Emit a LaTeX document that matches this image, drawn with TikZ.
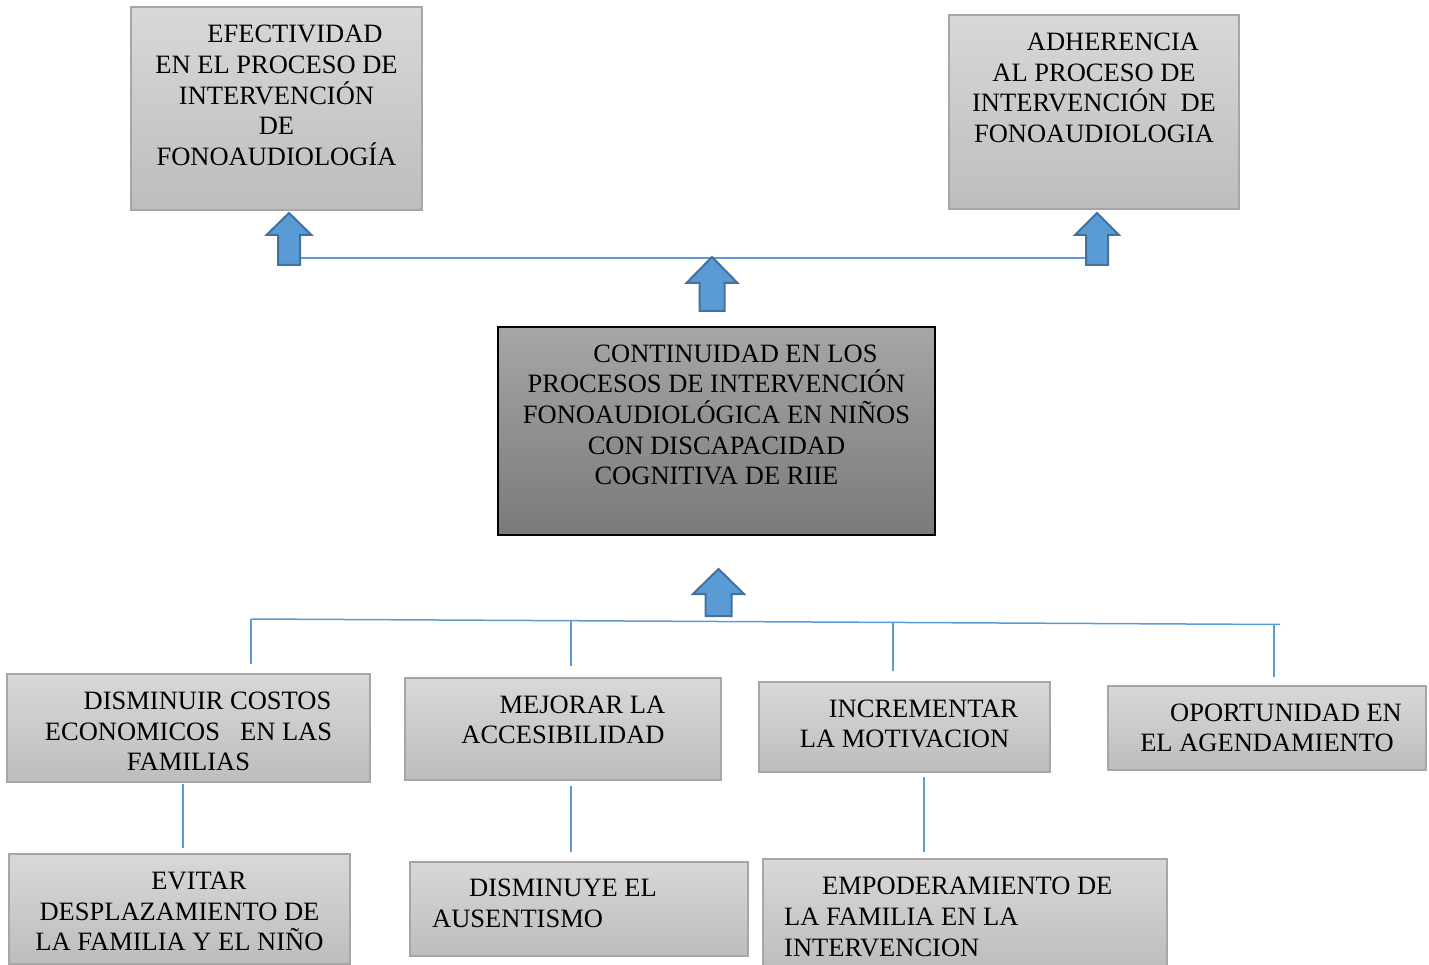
\documentclass[tikz,border=0pt]{standalone}
\usepackage{fontspec}
\setmainfont{Liberation Serif}
\usetikzlibrary{positioning}

\definecolor{boxline}{HTML}{A6A6A6}
\definecolor{boxtop}{HTML}{D8D8D8}
\definecolor{boxbot}{HTML}{BDBDBD}
\definecolor{maintop}{HTML}{A6A6A6}
\definecolor{mainbot}{HTML}{7A7A7A}
\definecolor{linkblue}{HTML}{5B9BD5}
\definecolor{arrowline}{HTML}{41719C}

\tikzset{
  graybox/.style={draw=boxline, line width=1.2pt, top color=boxtop, bottom color=boxbot, inner sep=0pt},
  mainbox/.style={draw=black, line width=1.5pt, top color=maintop, bottom color=mainbot, inner sep=0pt},
  boxtext/.style={inner sep=0pt, font=\fontsize{26.5}{30.6}\selectfont, align=center},
  link/.style={draw=linkblue, line width=1.5pt},
  blockarrow/.style={fill=linkblue, draw=arrowline, line width=2pt, line join=miter},
  pics/blockup/.style args={#1/#2/#3/#4}{code={
    \draw[blockarrow] (-#1,0) -- (-#1,-#3) -- (-#2,-#3) -- (0,-#4) -- (#2,-#3) -- (#1,-#3) -- (#1,0) -- cycle;}}
}

\begin{document}
\begin{tikzpicture}[x=1pt,y=-1pt]
\useasboundingbox (0,0) rectangle (1429,965);
\clip (0,0) rectangle (1429,965);

% top results
\node[graybox, minimum width=291pt, minimum height=203pt] (efec) at (276.5,108.5) {};
\node[boxtext] (efec-t) at (276.5,95.5) {\hspace*{37pt}EFECTIVIDAD\\EN EL PROCESO DE\\INTERVENCIÓN\\DE\\FONOAUDIOLOGÍA};
\node[graybox, minimum width=290pt, minimum height=194pt] (adh) at (1094,112) {};
\node[boxtext] (adh-t) at (1094,88) {\hspace*{38pt}ADHERENCIA\\AL PROCESO DE\\INTERVENCIÓN\ \ DE\\FONOAUDIOLOGIA};

% central box
\node[mainbox, minimum width=437pt, minimum height=208pt] (cont) at (716.5,431) {};
\node[boxtext] (cont-t) at (716.5,415) {\hspace*{38pt}CONTINUIDAD EN LOS\\PROCESOS DE INTERVENCIÓN\\FONOAUDIOLÓGICA EN NIÑOS\\CON DISCAPACIDAD\\COGNITIVA DE RIIE};

% causes
\node[graybox, minimum width=363pt, minimum height=108pt] (dism) at (188.5,728) {};
\node[boxtext] (dism-t) at (188.5,731.5) {\hspace*{38pt}DISMINUIR COSTOS\\ECONOMICOS\hspace{20pt}EN LAS\\FAMILIAS};
\node[graybox, minimum width=316pt, minimum height=102pt] (mejo) at (563,729) {};
\node[boxtext] (mejo-t) at (563,720) {\hspace*{39pt}MEJORAR LA\\ACCESIBILIDAD};
\node[graybox, minimum width=291pt, minimum height=90pt] (incr) at (904.5,727) {};
\node[boxtext] (incr-t) at (904.5,724) {\hspace*{38pt}INCREMENTAR\\LA MOTIVACION};
\node[graybox, minimum width=318pt, minimum height=84pt] (opor) at (1267,728) {};
\node[boxtext] (opor-t) at (1267,728) {\hspace*{38pt}OPORTUNIDAD EN\\EL AGENDAMIENTO};

% consequences
\node[graybox, minimum width=341pt, minimum height=110pt] (evit) at (179.5,909) {};
\node[boxtext] (evit-t) at (179.5,911.5) {\hspace*{39pt}EVITAR\\DESPLAZAMIENTO DE\\LA FAMILIA Y EL NIÑO};
\node[graybox, minimum width=338pt, minimum height=94pt] (ause) at (579,909) {};
\node[boxtext, align=left, anchor=west] (ause-t) at (432,903.5) {\hspace*{37pt}DISMINUYE EL\\AUSENTISMO};
\node[graybox, minimum width=404pt, minimum height=110pt] (empo) at (965,914) {};
\node[boxtext, align=left, anchor=west] (empo-t) at (784,917) {\hspace*{38pt}EMPODERAMIENTO DE\\LA FAMILIA EN LA\\INTERVENCION};

% connectors
\coordinate (topL) at (300,258);
\coordinate (topR) at (1086,258);
\draw[link] (topL) -- (topR);
\coordinate (busL) at (251,619);
\coordinate (busR) at (1280,624.5);
\draw[link] (busL) -- (busR);
\draw[link] (busL) -- (251,664);
\draw[link] (571,621) -- (571,666);
\draw[link] (893,622.5) -- (893,671);
\draw[link] (1274,624.5) -- (1274,677);
\draw[link] (183,784) -- (183,848);
\draw[link] (571,786) -- (571,852);
\draw[link] (924,777) -- (924,852);

% block arrows
\pic at (289,265) {blockup={11/22.5/30/52}};
\pic at (1097,265) {blockup={11/22/30/52}};
\pic at (712,311) {blockup={12.5/25.5/28/54}};
\pic at (718.5,616) {blockup={13/25.5/22/47}};
\end{tikzpicture}
\end{document}
